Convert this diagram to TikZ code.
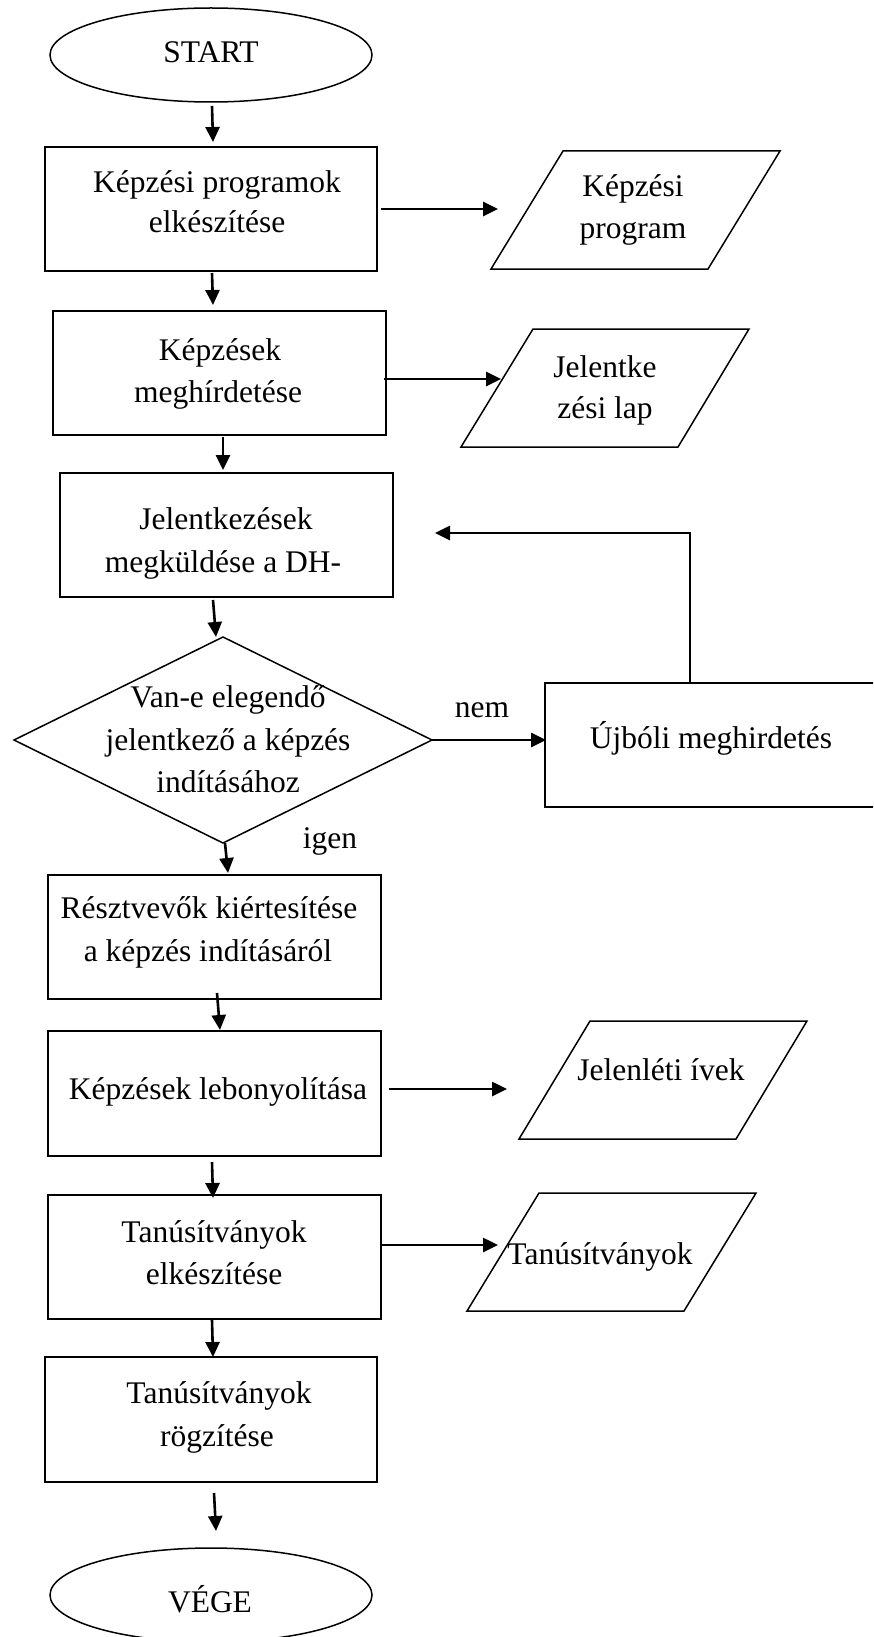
\documentclass[tikz,border=0pt]{standalone}
\usepackage{fontspec}
\setmainfont{Liberation Serif}
\usetikzlibrary{shapes.geometric,arrows.meta}
\begin{document}
\begin{tikzpicture}[x=1pt,y=-1pt,
  shp/.style={draw,line width=1.5pt,inner sep=0pt,outer sep=0pt},
  boxst/.style={shp,rectangle},
  ovalst/.style={shp,ellipse,minimum width=322pt,minimum height=94pt},
  conn/.style={line width=2.6pt,-{Triangle[length=15pt,width=14pt]}},
  txt/.style={font=\fontsize{31.5}{38}\selectfont,inner sep=0pt,anchor=base}]
\useasboundingbox (0,0) rectangle (873,1637);
\begin{scope}
\clip (0,0) rectangle (873,1637);
% box running off the right edge of the page (no right side visible)
\coordinate (b4nw) at (545,683);
\coordinate (b4sw) at (545,807);
\coordinate (b4ne) at (1000,683);
\coordinate (b4se) at (1000,807);
\draw[line width=1.5pt] (b4ne) -- (b4nw) -- (b4sw) -- (b4se);
% bottom terminal, cut by the page edge
\node[ovalst] (vege) at (211,1595) {};
\end{scope}

% terminals
\node[ovalst] (start) at (211,55) {};
\node[txt] (startt) at (211,63) {START};
\node[txt] (veget) at (210,1612) {VÉGE};

% process boxes
\node[boxst,minimum width=332pt,minimum height=124pt] (b1) at (211,209) {};
\node[txt] (b1a) at (217,193) {Képzési programok};
\node[txt] (b1b) at (217,233) {elkészítése};

\node[boxst,minimum width=333pt,minimum height=124pt] (b2) at (219.5,373) {};
\node[txt] (b2a) at (220,360) {Képzések};
\node[txt] (b2b) at (218,402) {meghírdetése};

\node[boxst,minimum width=333pt,minimum height=124pt] (b3) at (226.5,535) {};
\node[txt] (b3a) at (226,529) {Jelentkezések};
\node[txt] (b3b) at (223,572) {megküldése a DH-};

\node[txt] (b4a) at (711,748) {Újbóli meghirdetés};

\node[boxst,minimum width=333pt,minimum height=124pt] (b5) at (214.5,937) {};
\node[txt] (b5a) at (209,918) {Résztvevők kiértesítése};
\node[txt] (b5b) at (208,961) {a képzés indításáról};

\node[boxst,minimum width=333pt,minimum height=125pt] (b6) at (214.5,1093.5) {};
\node[txt] (b6a) at (218,1099) {Képzések lebonyolítása};

\node[boxst,minimum width=333pt,minimum height=124pt] (b7) at (214.5,1257) {};
\node[txt] (b7a) at (214,1242) {Tanúsítványok};
\node[txt] (b7b) at (214,1284) {elkészítése};

\node[boxst,minimum width=332pt,minimum height=125pt] (b8) at (211,1419.5) {};
\node[txt] (b8a) at (219,1403) {Tanúsítványok};
\node[txt] (b8b) at (217,1446) {rögzítése};

% decision
\node[shp,diamond,minimum width=418pt,minimum height=206pt] (dec) at (223,740) {};
\node[txt] (deca) at (228,707) {Van-e elegendő};
\node[txt] (decb) at (228,750) {jelentkező a képzés};
\node[txt] (decc) at (228,792) {indításához};

% data (parallelograms)
\draw[shp] (563,151) -- (780,151) -- (708,269) -- (491,269) -- cycle;
\node[txt] (p1a) at (633,197) {Képzési};
\node[txt] (p1b) at (633,239) {program};

\draw[shp] (533,329) -- (749,329) -- (678,447) -- (461,447) -- cycle;
\node[txt] (p2a) at (605,377) {Jelentke};
\node[txt] (p2b) at (605,418) {zési lap};

\draw[shp] (590,1021) -- (807,1021) -- (736,1139) -- (519,1139) -- cycle;
\node[txt] (p3a) at (661,1080) {Jelenléti ívek};

\draw[shp] (539,1193) -- (756,1193) -- (684,1311) -- (467,1311) -- cycle;
\node[txt] (p4a) at (600,1264) {Tanúsítványok};

% labels
\node[txt] (nem) at (482,717) {nem};
\node[txt] (igen) at (330,848) {igen};

% connector end points
\coordinate (a1s) at (212,106);  \coordinate (a1e) at (213,142);
\coordinate (a2s) at (381,209);  \coordinate (a2e) at (498,209);
\coordinate (a3s) at (212,273);  \coordinate (a3e) at (213,305);
\coordinate (a4s) at (384,379);  \coordinate (a4e) at (501,379);
\coordinate (a5s) at (223,437);  \coordinate (a5e) at (223,470);
\coordinate (a6s) at (213,600);  \coordinate (a6e) at (216,637);
\coordinate (a7e) at (546,740);
\coordinate (a8s) at (225,843);  \coordinate (a8e) at (228,873);
\coordinate (a9s) at (217,993);  \coordinate (a9e) at (220,1030);
\coordinate (a10s) at (389,1089); \coordinate (a10e) at (507,1089);
\coordinate (a11s) at (212,1162); \coordinate (a11e) at (213,1198);
\coordinate (a12s) at (381,1245); \coordinate (a12e) at (498,1245);
\coordinate (a13s) at (212,1320); \coordinate (a13e) at (213,1357);
\coordinate (a14s) at (214,1493); \coordinate (a14e) at (216,1531);
\coordinate (fbs) at (690,683); \coordinate (fbc) at (690,533); \coordinate (fbe) at (435,533);

% connectors
\draw[conn] (a1s) -- (a1e);
\draw[conn] (a2s) -- (a2e);
\draw[conn] (a3s) -- (a3e);
\draw[conn] (a4s) -- (a4e);
\draw[conn] (a5s) -- (a5e);
\draw[conn] (a6s) -- (a6e);
\draw[conn] (dec.east) -- (a7e);
\draw[conn] (fbs) -- (fbc) -- (fbe);
\draw[conn] (a8s) -- (a8e);
\draw[conn] (a9s) -- (a9e);
\draw[conn] (a10s) -- (a10e);
\draw[conn] (a11s) -- (a11e);
\draw[conn] (a12s) -- (a12e);
\draw[conn] (a13s) -- (a13e);
\draw[conn] (a14s) -- (a14e);
\end{tikzpicture}
\end{document}
